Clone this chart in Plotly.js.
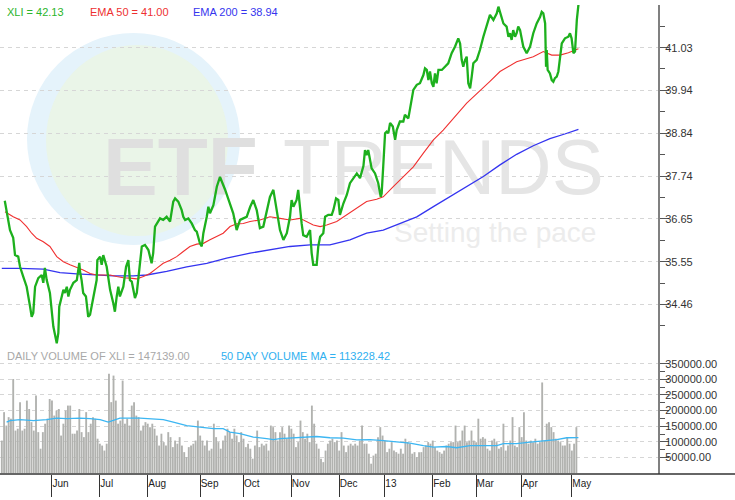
<!DOCTYPE html>
<html><head><meta charset="utf-8">
<script src="https://cdn.plot.ly/plotly-3.0.1.min.js"></script>
<style>html,body{margin:0;padding:0;background:#fff}#chart{width:735px;height:500px}</style>
</head><body><div id="chart"></div>
<script>
// ---------- DATA (trading-day index 0 = 1 May 2012) ----------
const monthTickDays = [22, 43, 64, 87, 106, 127, 148, 168, 189, 208, 228, 250];
const monthLabels   = ['Jun','Jul','Aug','Sep','Oct','Nov','Dec','13','Feb','Mar','Apr','May'];

const xliDay = [
  1.3,2.1,3.6,5.0,5.8,7.2,8.0,9.4,10.9,12.4,
  13.1,13.8,14.6,16.0,17.5,18.2,18.9,19.7,21.1,22.6,
  24.1,24.8,25.2,26.3,27.0,27.7,28.5,29.2,29.9,31.4,
  32.9,34.0,34.3,35.0,35.7,36.9,37.9,38.7,39.4,40.9,
  41.6,41.9,43.1,43.8,44.5,46.0,47.5,48.9,49.6,50.4,
  51.1,51.8,53.3,54.5,55.5,56.2,57.0,57.7,58.4,59.2,
  59.9,60.6,61.4,62.8,64.3,65.7,66.4,67.2,67.9,69.4,
  70.8,72.3,73.8,75.2,76.0,77.4,78.9,79.6,80.4,81.8,
  83.3,84.7,85.5,86.2,86.9,87.7,88.4,89.9,90.6,91.3,
  92.8,94.3,95.7,97.9,100.1,101.5,103.0,104.5,105.9,107.4,
  108.9,110.3,111.8,113.2,114.7,116.2,117.6,119.1,119.8,120.6,
  122.0,123.5,125.0,126.4,127.1,127.9,129.3,130.0,130.8,131.5,
  132.2,133.7,135.2,135.9,136.6,138.1,138.8,139.6,141.0,141.8,
  143.2,144.7,145.4,146.6,147.6,148.3,149.8,151.3,152.7,154.2,
  155.7,157.1,158.6,159.3,160.0,160.7,161.5,162.2,163.7,165.1,
  166.2,166.6,167.3,168.1,168.8,169.5,170.3,171.5,172.5,173.2,
  174.6,176.1,176.8,178.3,179.0,180.5,182.0,183.4,184.9,185.6,
  186.4,187.1,187.8,188.6,189.3,190.0,190.7,191.5,193.0,194.4,
  195.8,197.3,198.8,200.2,201.0,201.7,202.4,203.2,203.9,204.6,
  205.4,206.1,206.8,208.3,209.7,211.2,212.7,214.1,215.6,217.1,
  217.8,218.5,220.0,221.4,222.2,222.9,223.6,224.3,225.1,225.8,
  226.5,227.3,228.0,228.7,230.2,231.7,233.1,234.6,236.1,236.8,
  237.5,238.3,238.7,239.0,239.4,240.4,241.2,241.9,242.6,243.4,
  244.1,244.8,245.6,247.0,248.5,249.2,249.9,250.7,251.4,252.2,
  252.9
];
const xliClose = [
  37.11,36.83,36.36,36.16,35.72,35.68,35.42,35.17,34.91,34.40,
  34.14,34.24,34.91,35.13,35.21,35.01,35.39,35.08,34.75,33.89,
  33.46,33.73,34.40,34.66,34.83,34.75,34.91,34.66,34.83,35.01,
  35.08,35.52,35.30,35.08,34.75,34.66,34.14,34.19,34.40,34.83,
  35.08,35.59,35.68,35.47,35.72,35.42,34.83,34.49,34.27,34.66,
  34.91,34.66,34.91,35.42,35.59,35.08,35.04,34.83,34.62,34.75,
  35.08,35.51,35.94,35.98,35.85,35.51,35.77,36.45,36.53,36.66,
  36.62,36.70,36.58,37.09,37.17,37.09,36.87,36.70,36.62,36.66,
  36.53,36.36,36.32,36.19,36.02,35.94,36.28,36.70,36.96,36.79,
  37.00,37.47,37.72,37.40,37.05,36.79,36.36,36.62,36.66,36.70,
  36.95,37.13,36.87,36.41,36.45,36.87,37.21,37.39,37.13,36.79,
  36.36,36.11,36.28,36.70,37.13,36.96,37.13,37.39,36.87,36.53,
  36.23,36.19,36.36,35.77,35.47,35.47,35.94,36.19,36.28,36.70,
  36.75,36.75,36.87,37.17,37.13,36.75,37.04,37.26,37.56,37.69,
  37.81,37.69,38.00,38.41,38.28,38.41,38.20,37.94,37.81,37.56,
  37.21,37.30,38.00,38.84,38.88,38.84,39.10,39.01,38.67,38.92,
  39.14,39.14,39.31,39.22,39.45,39.95,40.08,40.12,40.33,40.50,
  40.46,40.20,40.42,40.12,40.03,40.37,40.12,40.46,40.46,40.54,
  40.63,40.89,41.06,41.27,41.14,40.72,40.54,40.72,40.80,40.12,
  39.99,40.29,40.63,40.72,40.97,41.31,41.57,41.87,41.74,41.91,
  42.08,41.95,41.65,41.57,41.31,41.40,41.23,41.48,41.31,41.40,
  41.57,41.48,41.23,41.06,40.89,41.06,41.40,41.65,41.82,41.95,
  41.91,41.65,40.54,40.97,40.46,40.37,40.20,40.16,40.25,40.29,
  40.42,40.80,41.14,41.27,41.31,41.40,41.27,40.89,40.93,41.74,
  42.13
];

const ema50Day = [1.4,5.0,8.0,10.9,13.1,15.3,18.2,21.1,24.1,27.0,29.9,32.9,35.7,38.7,41.6,44.5,47.5,50.4,53.3,56.2,59.2,62.1,65.0,67.9,70.8,73.8,76.7,79.6,82.5,85.5,88.4,91.3,94.3,97.1,100.1,103.0,105.9,108.9,113.2,117.6,122.0,126.4,130.8,133.7,136.6,139.6,142.5,146.9,151.3,155.7,160.0,164.4,167.3,171.7,176.1,180.5,184.9,189.3,193.6,198.0,203.9,214.1,218.5,225.8,233.1,237.5,241.2,244.8,248.5,252.9];
const ema50Val = [36.83,36.70,36.62,36.45,36.28,36.15,36.06,35.94,35.68,35.55,35.47,35.41,35.34,35.25,35.21,35.21,35.21,35.17,35.14,35.13,35.11,35.17,35.25,35.38,35.51,35.59,35.68,35.81,35.94,36.00,36.02,36.11,36.19,36.28,36.45,36.52,36.53,36.58,36.62,36.70,36.66,36.62,36.66,36.58,36.49,36.45,36.49,36.58,36.75,36.92,37.09,37.15,37.21,37.47,37.73,37.98,38.33,38.67,38.92,39.22,39.61,40.17,40.42,40.67,40.80,40.93,40.84,40.84,40.90,41.00];

const ema200Day = [0,8.0,18.2,25.5,32.9,40.1,48.9,57.7,63.6,72.3,81.1,89.9,98.6,108.9,117.6,126.4,135.2,143.9,152.7,160.0,167.3,174.6,182.0,189.3,196.6,203.9,211.2,218.5,225.8,233.1,240.4,246.9,252.9];
const ema200Val = [35.38,35.38,35.36,35.27,35.24,35.21,35.19,35.19,35.21,35.30,35.42,35.51,35.64,35.77,35.85,35.94,35.98,35.98,36.11,36.28,36.36,36.53,36.70,36.96,37.21,37.47,37.73,38.03,38.30,38.52,38.70,38.82,38.94];

// daily volume, thousands of shares (one bar per trading day 0..252)
const volumeK = [
  104,195,152,179,174,301,136,142,227,136,
  142,232,205,163,136,248,131,78,131,158,
  174,237,232,184,200,205,120,158,200,216,
  216,126,126,136,205,131,115,195,131,158,
  179,174,110,94,88,72,94,318,227,312,
  232,158,168,296,158,174,152,216,227,184,
  179,136,152,163,158,147,158,142,120,88,
  126,99,88,131,115,83,104,94,115,88,
  67,51,83,88,94,104,168,120,104,88,
  104,72,78,158,115,99,78,104,120,142,
  131,110,142,120,99,131,110,83,94,78,
  46,88,136,83,94,88,94,72,152,147,
  131,104,131,147,126,110,152,142,126,83,
  99,168,131,110,126,99,216,158,94,78,
  46,35,72,94,104,110,99,104,72,131,
  88,67,88,94,88,94,88,104,152,94,
  94,62,30,56,62,115,147,120,104,67,
  78,99,72,67,62,78,62,110,99,94,
  62,67,51,67,67,83,88,99,94,104,
  83,72,67,62,72,88,94,99,99,152,
  99,104,136,152,99,104,136,104,99,174,
  110,115,110,78,72,104,110,99,78,83,
  158,72,88,104,179,88,83,147,115,195,
  104,94,104,99,110,94,99,290,104,158,
  163,147,131,110,104,99,88,88,115,94,
  72,94,147
];

const volMaDay = [2.1,3.6,8.0,13.8,19.7,24.1,28.5,34.3,38.7,43.1,46.7,49.6,51.8,60.6,63.6,70.8,75.2,81.1,86.9,92.8,97.1,100.1,104.5,110.3,116.2,119.1,122.0,126.4,132.2,138.1,143.9,149.8,155.7,161.5,167.3,173.2,179.0,184.9,189.3,195.1,199.5,205.4,211.2,217.1,220.0,225.8,231.7,237.5,243.4,247.8,252.9];
const volMaK = [163,168,171,168,171,176,174,176,174,171,163,171,176,176,174,171,163,152,147,142,142,131,126,115,110,107,110,112,113,117,113,112,106,107,104,99,96,88,83,85,81,88,88,88,94,94,99,102,107,113,113.2];

const priceTicks = [34.46,35.55,36.65,37.74,38.84,39.94,41.03,42.13];
const priceTickText = ['34.46','35.55','36.65','37.74','38.84','39.94','41.03',''];
const volTicks = [50000,100000,150000,200000,250000,300000,350000];

const lastClose = '42.13', lastEma50 = '41.00', lastEma200 = '38.94';
const lastVolume = '147139.00', lastVolMa = '113228.42';

// ---------- LAYOUT GEOMETRY ----------
const PW = 658, PTOP = 5, PBOT = 474, PRICE_BOT = 346;
const xRange = [-0.79, 287.8];
const priceRange = [33.392, 42.123];
const volRange = [-3000, 406700];
const splitFrac = (PBOT - PRICE_BOT) / (PBOT - PTOP);
const px = v => v / PW;                           // page x -> paper
const py = v => (PBOT - v) / (PBOT - PTOP);       // page y -> paper
const dataX = v => xRange[0] + v / PW * (xRange[1] - xRange[0]);
const dataY = v => priceRange[1] - (v - PTOP) / (PRICE_BOT - PTOP) * (priceRange[1] - priceRange[0]);

const mid = a => a.slice(0, -1).map((v, i) => (v + a[i + 1]) / 2);
const priceMinor = mid(priceTicks).concat([priceTicks[0] - (priceTicks[1]-priceTicks[0])/2]);
const volMinor = mid(volTicks);

const FONT = 'Liberation Sans, Arial, sans-serif';

const traces = [
  { // watermark, bold part (drawn first so it sits beneath the lines)
    x: [dataX(103)], y: [dataY(174)], mode: 'text', text: ['<b>ETF</b>'],
    textposition: 'middle right', cliponaxis: false, hoverinfo: 'skip',
    textfont: { family: FONT, size: 82, weight: 'bold', color: '#dfdfdf' },
    xaxis: 'x', yaxis: 'y'
  },
  { // watermark, regular part
    x: [dataX(283), dataX(394)], y: [dataY(174), dataY(235)],
    mode: 'text', text: ['TRENDS', 'Setting the pace'],
    textposition: 'middle right', cliponaxis: false, hoverinfo: 'skip',
    textfont: { family: FONT, size: [78, 28], color: ['#e5e5e5', '#ececec'] },
    xaxis: 'x', yaxis: 'y'
  },
  { x: ema200Day, y: ema200Val, mode: 'lines', line: { color: '#3434f0', width: 1.3 }, xaxis: 'x', yaxis: 'y' },
  { x: ema50Day, y: ema50Val, mode: 'lines', line: { color: '#f03030', width: 1.1 }, xaxis: 'x', yaxis: 'y' },
  { x: xliDay, y: xliClose, mode: 'lines', line: { color: '#1db01d', width: 2.3 }, xaxis: 'x', yaxis: 'y' },
  { x: volumeK.map((v, i) => i), y: volumeK.map(v => v * 1000), type: 'bar',
    marker: { color: '#b1b2af', line: { width: 0 } }, xaxis: 'x', yaxis: 'y2' },
  { x: volMaDay, y: volMaK.map(v => v * 1000), mode: 'lines', line: { color: '#3cb6f2', width: 1.3 }, xaxis: 'x', yaxis: 'y2' }
];

const gridStyle = { showgrid: true, gridcolor: '#d6d6d6', griddash: '4px,4px', gridwidth: 1 };

const layout = {
  width: 735, height: 500,
  margin: { l: 0, r: 735 - PW, t: PTOP, b: 500 - PBOT },
  paper_bgcolor: '#ffffff', plot_bgcolor: 'rgba(0,0,0,0)',
  showlegend: false, hovermode: false, bargap: 0.18,
  font: { family: FONT, size: 11, color: '#333' },
  xaxis: {
    range: xRange, anchor: 'y2', showgrid: false, zeroline: false, showline: false,
    tickmode: 'array', tickvals: monthTickDays, ticktext: monthLabels,
    ticks: 'outside', ticklen: 22, tickwidth: 1, tickcolor: '#333',
    ticklabelposition: 'outside right', tickfont: { size: 10, color: '#222' }
  },
  yaxis: Object.assign({
    domain: [splitFrac, 1], range: priceRange, side: 'right', anchor: 'x',
    zeroline: false, showline: true, linecolor: '#808080', linewidth: 2,
    tickmode: 'array', tickvals: priceTicks, ticktext: priceTickText,
    ticks: 'outside', ticklen: 9, tickcolor: '#555', tickwidth: 1, ticklabelstandoff: -6,
    tickfont: { size: 11, color: '#333' },
    minor: { tickmode: 'array', tickvals: priceMinor, ticks: 'outside', ticklen: 5, tickcolor: '#555', showgrid: false }
  }, gridStyle),
  yaxis2: Object.assign({
    domain: [0, splitFrac], range: volRange, side: 'right', anchor: 'x',
    zeroline: false, showline: true, linecolor: '#808080', linewidth: 2,
    tickmode: 'array', tickvals: volTicks, ticktext: volTicks.map(v => v.toFixed(2)),
    ticks: 'outside', ticklen: 9, tickcolor: '#555', tickwidth: 1, ticklabelstandoff: -6,
    tickfont: { size: 11, color: '#333' },
    minor: { tickmode: 'array', tickvals: volMinor, ticks: 'outside', ticklen: 5, tickcolor: '#555', showgrid: false }
  }, gridStyle),
  shapes: [
    { type: 'circle', xref: 'paper', yref: 'paper', layer: 'below',
      x0: px(27), x1: px(240), y0: py(245), y1: py(33), fillcolor: '#e5f3fb', line: { width: 0 } },
    { type: 'circle', xref: 'paper', yref: 'paper', layer: 'below',
      x0: px(46), x1: px(228), y0: py(236), y1: py(45), fillcolor: '#eaf5e8', line: { width: 0 } },
    { type: 'line', xref: 'paper', yref: 'paper', x0: 0, x1: 735 / PW, y0: 0, y1: 0,
      line: { color: '#333', width: 1.5 } }
  ],
  annotations: [
    { text: 'XLI = ' + lastClose, color: '#2cb52c', x: 5, y: 12 },
    { text: 'EMA 50 = ' + lastEma50, color: '#ee3030', x: 88, y: 12 },
    { text: 'EMA 200 = ' + lastEma200, color: '#3535ee', x: 191, y: 12 },
    { text: 'DAILY VOLUME OF XLI = ' + lastVolume, color: '#a8a8a8', x: 5, y: 356 },
    { text: '50 DAY VOLUME MA = ' + lastVolMa, color: '#2fb0f0', x: 219, y: 356 }
  ].map(a => ({
    text: a.text, xref: 'paper', yref: 'paper', x: px(a.x), y: py(a.y),
    xanchor: 'left', yanchor: 'middle', showarrow: false,
    font: { family: FONT, size: 11, color: a.color }
  }))
};

Plotly.newPlot('chart', traces, layout, { staticPlot: true, displayModeBar: false });
</script>
</body></html>
